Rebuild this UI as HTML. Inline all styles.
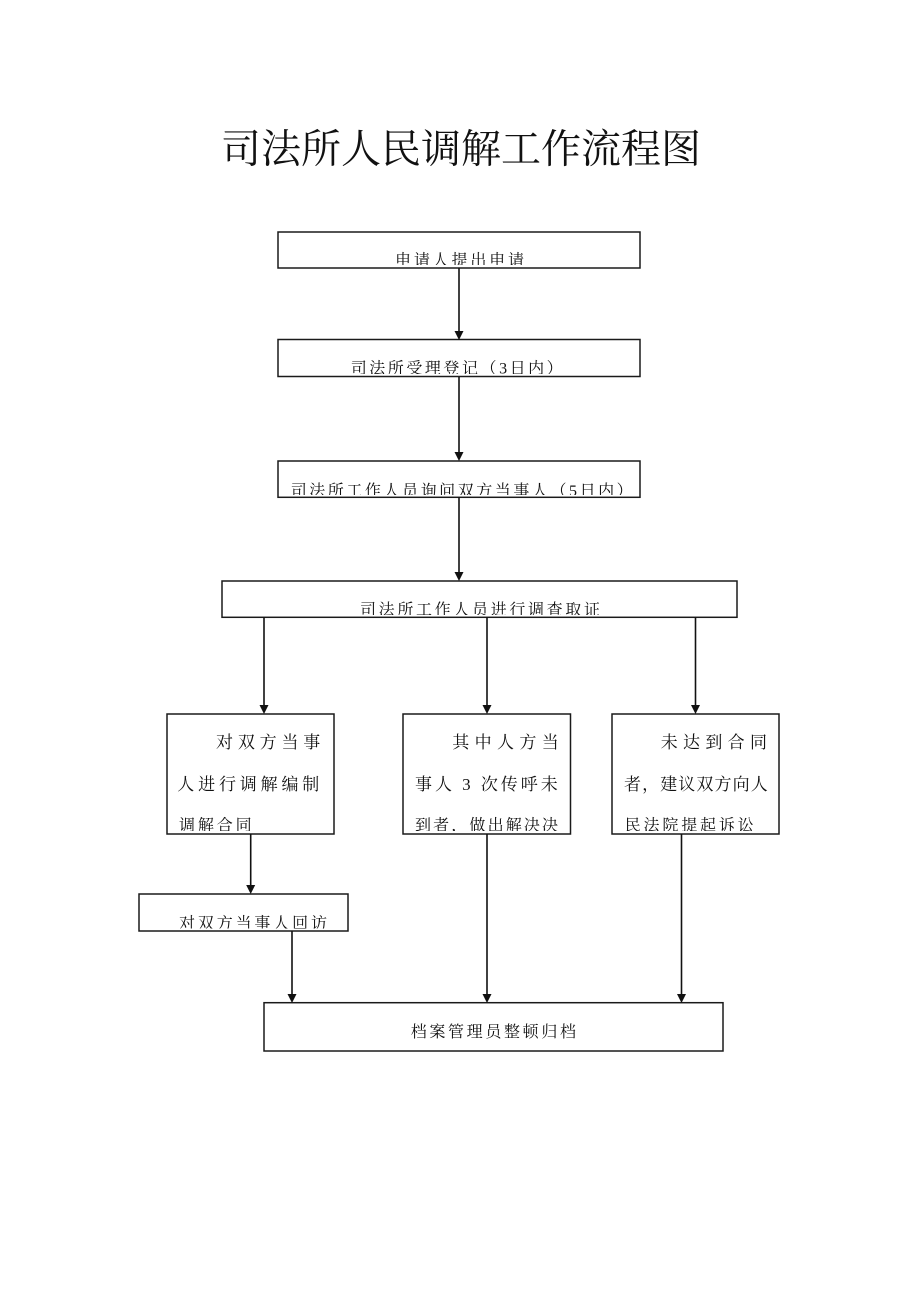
<!DOCTYPE html>
<html><head><meta charset="utf-8"><style>
html,body{margin:0;padding:0;background:#fff;}
body{width:920px;height:1302px;overflow:hidden;}
svg{display:block;}
text{font-family:"Liberation Serif","Noto Serif CJK SC",serif;fill:#111;}
</style></head><body>
<svg width="920" height="1302" viewBox="0 0 920 1302" xmlns="http://www.w3.org/2000/svg">
<defs>
<clipPath id="c1"><rect x="279" y="233" width="360" height="32"/></clipPath>
<clipPath id="c2"><rect x="279" y="340.5" width="360" height="33.5"/></clipPath>
<clipPath id="c3"><rect x="279" y="462" width="360" height="33"/></clipPath>
<clipPath id="c4"><rect x="223" y="582" width="513" height="33"/></clipPath>
<clipPath id="c5"><rect x="168" y="715" width="165" height="116"/></clipPath>
<clipPath id="c6"><rect x="404" y="715" width="165.5" height="116"/></clipPath>
<clipPath id="c7"><rect x="613" y="715" width="165" height="116"/></clipPath>
<clipPath id="c8"><rect x="140" y="895" width="207" height="33.5"/></clipPath>
<clipPath id="c9"><rect x="265" y="1003.5" width="457" height="46.5"/></clipPath>
</defs>

<!-- Title -->
<text x="221" y="162.6" font-size="40" textLength="480" lengthAdjust="spacing">司法所人民调解工作流程图</text>

<g fill="none" stroke="#1a1a1a" stroke-width="1.5">
<rect x="278" y="232" width="362" height="36"/>
<rect x="278" y="339.5" width="362" height="37"/>
<rect x="278" y="461" width="362" height="36.3"/>
<rect x="222" y="581" width="515" height="36.3"/>
<rect x="167" y="714" width="167" height="120"/>
<rect x="403" y="714" width="167.5" height="120"/>
<rect x="612" y="714" width="167" height="120"/>
<rect x="139" y="894" width="209" height="37"/>
<rect x="264" y="1002.7" width="459" height="48.3"/>
</g>

<!-- connectors -->
<g stroke="#111" stroke-width="1.6">
<line x1="459" y1="268" x2="459" y2="332"/>
<line x1="459" y1="377" x2="459" y2="453"/>
<line x1="459" y1="497.3" x2="459" y2="573"/>
<line x1="264" y1="617.3" x2="264" y2="706"/>
<line x1="487" y1="617.3" x2="487" y2="706"/>
<line x1="695.5" y1="617.3" x2="695.5" y2="706"/>
<line x1="250.7" y1="834" x2="250.7" y2="886"/>
<line x1="292" y1="931" x2="292" y2="995"/>
<line x1="487" y1="834" x2="487" y2="995"/>
<line x1="681.5" y1="834" x2="681.5" y2="995"/>
</g>
<g fill="#111">
<polygon points="454.5,331 463.5,331 459,340"/>
<polygon points="454.5,452 463.5,452 459,461"/>
<polygon points="454.5,572 463.5,572 459,581"/>
<polygon points="259.5,705 268.5,705 264,714"/>
<polygon points="482.5,705 491.5,705 487,714"/>
<polygon points="691,705 700,705 695.5,714"/>
<polygon points="246.2,885 255.2,885 250.7,894"/>
<polygon points="287.5,994 296.5,994 292,1003"/>
<polygon points="482.5,994 491.5,994 487,1003"/>
<polygon points="677,994 686,994 681.5,1003"/>
</g>

<!-- box texts -->
<text clip-path="url(#c1)" x="395" y="265.4" font-size="16" textLength="129" lengthAdjust="spacing">申请人提出申请</text>
<text clip-path="url(#c2)" x="350.7" y="373.4" font-size="16" textLength="212" lengthAdjust="spacing">司法所受理登记（3日内）</text>
<text clip-path="url(#c3)" x="290.7" y="496" font-size="16" textLength="342" lengthAdjust="spacing">司法所工作人员询问双方当事人（5日内）</text>
<text clip-path="url(#c4)" x="360" y="615" font-size="16" textLength="240" lengthAdjust="spacing">司法所工作人员进行调查取证</text>

<g clip-path="url(#c5)">
<text x="216" y="748" font-size="17" textLength="104.3" lengthAdjust="spacing">对双方当事</text>
<text x="177.3" y="790" font-size="17" textLength="142" lengthAdjust="spacing">人进行调解编制</text>
<text x="179" y="830.7" font-size="16" textLength="72.7" lengthAdjust="spacing">调解合同</text>
</g>
<g clip-path="url(#c6)">
<text x="452.3" y="748" font-size="17" textLength="106.4" lengthAdjust="spacing">其中人方当</text>
<text x="415" y="790" font-size="17" textLength="142.7" lengthAdjust="spacing">事人 3 次传呼未</text>
<text x="415" y="830.7" font-size="16" textLength="143" lengthAdjust="spacing">到者，做出解决决</text>
</g>
<g clip-path="url(#c7)">
<text x="660.7" y="748" font-size="17" textLength="106.3" lengthAdjust="spacing">未达到合同</text>
<text x="624" y="790" font-size="17" textLength="143.7" lengthAdjust="spacing">者，建议双方向人</text>
<text x="624.7" y="830.7" font-size="16" textLength="129" lengthAdjust="spacing">民法院提起诉讼</text>
</g>

<text clip-path="url(#c8)" x="179" y="928.4" font-size="16" textLength="148" lengthAdjust="spacing">对双方当事人回访</text>
<text clip-path="url(#c9)" x="410.7" y="1037" font-size="16" textLength="165.3" lengthAdjust="spacing">档案管理员整顿归档</text>
</svg>
</body></html>
